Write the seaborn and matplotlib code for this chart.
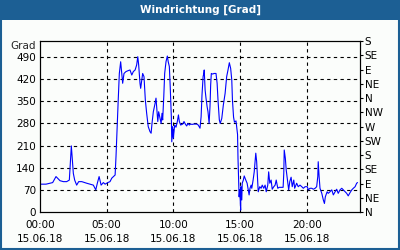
import matplotlib
matplotlib.use("Agg")
import matplotlib.pyplot as plt
import seaborn as sns
import pandas as pd
from matplotlib.patches import Rectangle

# minutes after 00:00 on 15.06.18
minutes = [0, 27, 57, 72, 90, 105, 120, 132, 141, 150, 156, 165, 174, 188, 210, 240, 251, 258,
           266, 275, 285, 293, 305, 315, 323, 338, 342, 348, 352, 357, 363, 368, 372, 378, 387,
           397, 405, 413, 420, 428, 435, 440, 444, 450, 453, 458, 462, 468, 474, 480, 487, 495,
           500, 504, 510, 518, 522, 525, 530, 534, 540, 545, 549, 552, 557, 561, 567, 573, 577,
           582, 586, 591, 593, 597, 600, 606, 612, 618, 623, 627, 633, 642, 648, 654, 660, 666,
           672, 678, 684, 693, 705, 712, 720, 725, 729, 734, 737, 739, 743, 747, 752, 756, 761,
           765, 768, 771, 777, 783, 792, 797, 801, 807, 811, 818, 825, 833, 840, 846, 852, 858,
           863, 866, 871, 875, 882, 889, 891, 894, 896, 899, 901, 903, 904, 908, 910, 915, 919,
           926, 932, 937, 941, 945, 950, 953, 959, 964, 971, 975, 980, 982, 989, 995, 1000, 1007,
           1013, 1018, 1025, 1029, 1034, 1040, 1045, 1052, 1058, 1063, 1070, 1076, 1085, 1094,
           1097, 1099, 1104, 1108, 1115, 1119, 1124, 1130, 1135, 1142, 1146, 1155, 1162, 1170,
           1178, 1185, 1193, 1203, 1207, 1215, 1223, 1230, 1238, 1245, 1250, 1252, 1256, 1260,
           1268, 1275, 1280, 1284, 1292, 1297, 1305, 1313, 1320, 1328, 1335, 1342, 1350, 1358,
           1365, 1373, 1380, 1387, 1395, 1403, 1410, 1418, 1425, 1429]
direction = [88, 88, 93, 112, 99, 96, 96, 101, 209, 122, 101, 85, 96, 96, 91, 85, 70, 91,
             112, 85, 93, 88, 93, 96, 107, 117, 175, 286, 354, 438, 475, 438, 407, 438, 444,
             447, 449, 433, 444, 449, 465, 491, 465, 407, 391, 417, 438, 428, 354, 312, 270, 254,
             249, 280, 317, 344, 360, 333, 286, 317, 296, 280, 312, 291, 365, 438, 475, 493, 475,
             460, 396, 301, 222, 270, 233, 275, 268, 286, 307, 286, 275, 278, 286, 278, 272, 280,
             275, 278, 277, 278, 278, 275, 265, 301, 370, 428, 438, 449, 386, 360, 333, 317, 280,
             333, 402, 438, 436, 438, 438, 407, 354, 291, 280, 296, 338, 375, 428, 449, 472, 454,
             417, 354, 300, 284, 288, 245, 170, 91, 48, 70, 38, 6, 80, 38, 91, 101, 114,
             101, 91, 70, 54, 75, 85, 75, 101, 127, 186, 159, 91, 64, 80, 75, 85, 75,
             85, 64, 85, 127, 91, 101, 72, 80, 85, 101, 75, 78, 78, 78,
             122, 196, 170, 133, 91, 70, 96, 110, 80, 101, 75, 91, 80, 85,
             80, 75, 80, 80, 70, 75, 75, 72, 75, 80, 112, 159, 112, 75,
             59, 38, 27, 48, 64, 59, 64, 70, 54, 64, 72, 59, 70, 75,
             70, 64, 59, 51, 61, 70, 75, 80, 91, 93]

left_ticks = [0, 70, 140, 210, 280, 350, 420, 490]
compass_ticks = [0, 45, 90, 135, 180, 225, 270, 315, 360, 405, 450, 495, 540]
compass_labels = ["N", "NE", "E", "SE", "S", "SW", "W", "NW", "N", "NE", "E", "SE", "S"]
x_label_hours = [0, 5, 10, 15, 20]
x_labels = ["00:00\n15.06.18", "05:00\n15.06.18", "10:00\n15.06.18", "15:00\n15.06.18", "20:00\n15.06.18"]
title = "Windrichtung [Grad]"
unit = "Grad"

df = pd.DataFrame({"hour": [m / 60 for m in minutes], "dir": direction})

sns.set_style("white")
plt.rcParams["font.family"] = ["DejaVu Sans"]
BG = "#fbfdfb"
BLUE = "#1c5f94"

fig = plt.figure(figsize=(4, 2.5), dpi=100, facecolor=BG)
ax = fig.add_axes([40 / 400, 1 - 212 / 250, 320 / 400, (212 - 41.2) / 250])
ax.set_facecolor(BG)

sns.lineplot(data=df, x="hour", y="dir", ax=ax, color="#0000ff", linewidth=0.8)

ax.set_xlim(0, 24)
ax.set_ylim(0, 540)
ax.set_xlabel("")
ax.set_ylabel("")

ax.set_yticks(left_ticks)
ax.set_yticklabels([str(v) for v in left_ticks])
ax.tick_params(axis="y", length=0, pad=3, labelsize=7.5, colors="black")

ax.set_xticks(x_label_hours)
ax.set_xticklabels(x_labels, linespacing=1.45)
ax.set_xticks(range(0, 25), minor=True)
ax.tick_params(axis="x", which="both", direction="in", length=2.5, width=0.8,
               pad=6, labelsize=7.5, colors="black")

for s in ax.spines.values():
    s.set_color("black")
    s.set_linewidth(0.8)

for v in left_ticks[1:]:
    ax.axhline(v, color="black", lw=0.8, ls=(0, (3, 3)), zorder=0.5)
for h in x_label_hours[1:]:
    ax.axvline(h, color="black", lw=0.8, ls=(0, (3, 3)), zorder=0.5)

ax2 = ax.twinx()
ax2.set_ylim(0, 540)
ax2.set_yticks(compass_ticks)
ax2.set_yticklabels(compass_labels)
ax2.tick_params(axis="y", direction="out", length=2.5, width=0.8, pad=1, labelsize=7.5, colors="black")
for s in ax2.spines.values():
    s.set_color("black")
    s.set_linewidth(0.8)

fig.text(36 / 400, 1 - 46 / 250, unit, ha="right", va="center", fontsize=7.5)

# title bar and frame
fig.patches.append(Rectangle((0, 1 - 20 / 250), 1, 20 / 250, transform=fig.transFigure,
                             facecolor=BLUE, edgecolor="none", zorder=0))
fig.patches.append(Rectangle((0.0025, 0.004), 0.995, 0.994, transform=fig.transFigure,
                             facecolor="none", edgecolor=BLUE, linewidth=1.5, zorder=1))
fig.text(0.5, 1 - 10 / 250, title, ha="center", va="center", color="white",
         fontsize=7.5, fontweight="bold")

fig.savefig("out.png", dpi=100, facecolor=BG)
